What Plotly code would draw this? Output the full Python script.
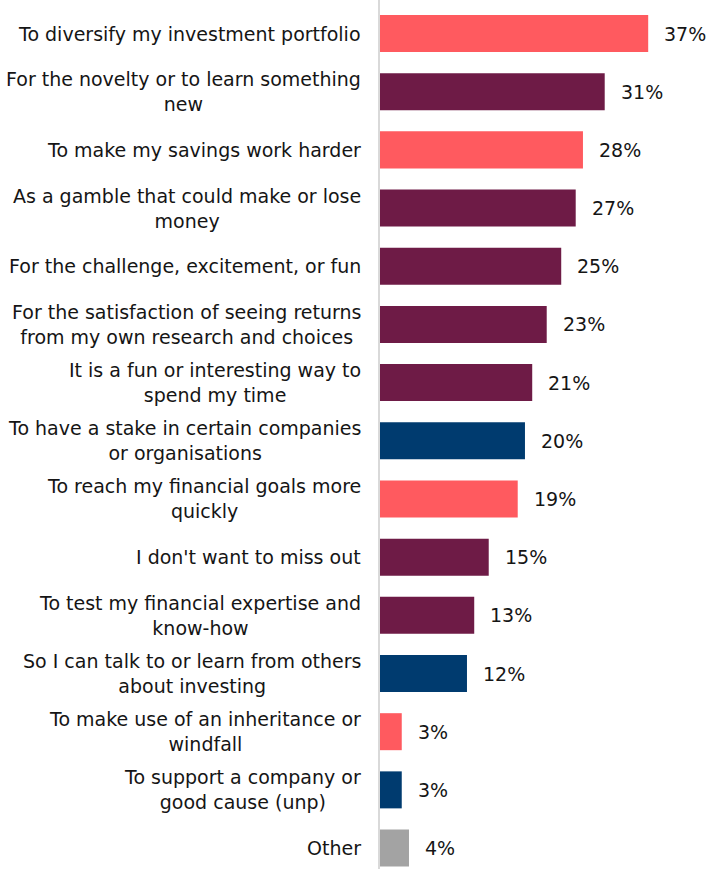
import plotly.graph_objects as go

# Reasons for investing, top to bottom
reasons = [
    "To diversify my investment portfolio",
    "For the novelty or to learn something<br>new",
    "To make my savings work harder",
    "As a gamble that could make or lose<br>money",
    "For the challenge, excitement, or fun",
    "For the satisfaction of seeing returns<br>from my own research and choices",
    "It is a fun or interesting way to<br>spend my time",
    "To have a stake in certain companies<br>or organisations",
    "To reach my financial goals more<br>quickly",
    "I don't want to miss out",
    "To test my financial expertise and<br>know-how",
    "So I can talk to or learn from others<br>about investing",
    "To make use of an inheritance or<br>windfall",
    "To support a company or<br>good cause (unp)",
    "Other",
]
shares = [37, 31, 28, 27, 25, 23, 21, 20, 19, 15, 13, 12, 3, 3, 4]
groups = ["financial", "enjoyment", "financial", "enjoyment", "enjoyment",
          "enjoyment", "enjoyment", "social", "financial", "enjoyment",
          "enjoyment", "social", "financial", "social", "other"]

palette = {
    "financial": "#FF5A5F",
    "enjoyment": "#6E1B46",
    "social": "#003B6F",
    "other": "#A3A3A3",
}

FONT = "DejaVu Sans, Verdana, sans-serif"
TEXT = "#151515"
positions = list(range(len(reasons)))

fig = go.Figure(
    go.Bar(
        x=shares,
        y=positions,
        orientation="h",
        width=0.636,
        marker=dict(color=[palette[g] for g in groups], line=dict(width=0)),
        hoverinfo="skip",
    )
)

annotations = []
for pos, label, value in zip(positions, reasons, shares):
    annotations.append(dict(
        x=0, y=pos, xref="x", yref="y", text=label, showarrow=False,
        xanchor="right", yanchor="middle", align="center", xshift=-17,
        font=dict(family=FONT, size=19, color=TEXT),
    ))
    annotations.append(dict(
        x=value, y=pos, xref="x", yref="y", text=f"{value}%", showarrow=False,
        xanchor="left", yanchor="middle", xshift=14,
        font=dict(family=FONT, size=19, color=TEXT),
    ))

fig.update_layout(
    width=708,
    height=869,
    margin=dict(l=380, r=0, t=0, b=0),
    paper_bgcolor="white",
    plot_bgcolor="white",
    showlegend=False,
    annotations=annotations,
    xaxis=dict(range=[0, 45.25], visible=False, fixedrange=True),
    yaxis=dict(
        range=[14.36, -0.576], showticklabels=False, showgrid=False,
        zeroline=False, showline=True, linecolor="#d9d9d9", linewidth=2,
        ticks="", fixedrange=True,
    ),
)

fig.write_html("out.html")
